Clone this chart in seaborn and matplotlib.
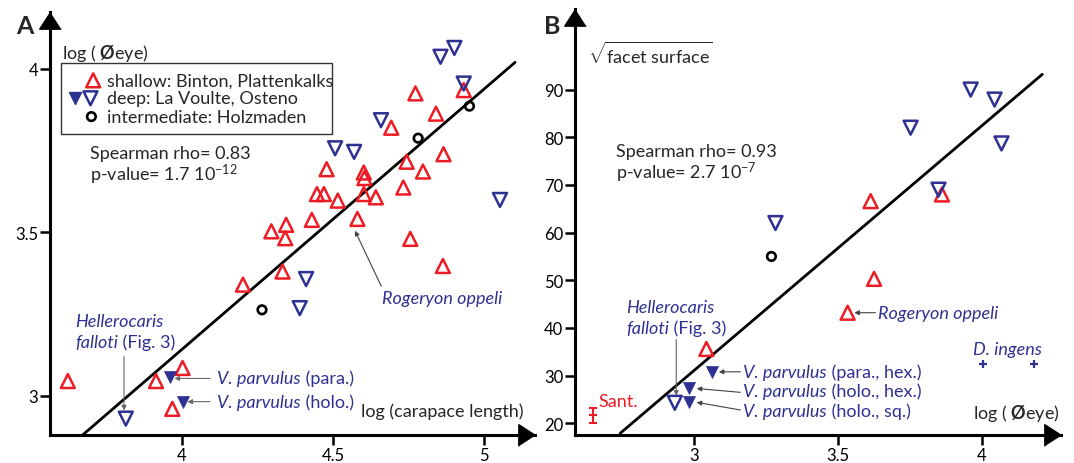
import matplotlib
matplotlib.use("Agg")
import matplotlib.pyplot as plt
from matplotlib.patches import Rectangle
import seaborn as sns

RED = "#ED1C24"
BLUE = "#2E3192"

# ---- panel A: log(carapace length) vs log(eye diameter) ----
a_shallow_x = [4.933, 4.773, 4.841, 4.693, 4.866, 4.744, 4.479, 4.602, 4.604, 4.798,
               4.733, 4.447, 4.470, 4.602, 4.516, 4.642, 4.430, 4.581, 4.345, 4.296,
               4.342, 4.756, 4.202, 4.333, 4.864, 3.622, 3.914, 4.002, 3.968]
a_shallow_y = [3.935, 3.925, 3.863, 3.820, 3.739, 3.716, 3.693, 3.683, 3.666, 3.686,
               3.637, 3.617, 3.617, 3.617, 3.597, 3.607, 3.538, 3.541, 3.523, 3.503,
               3.482, 3.480, 3.340, 3.380, 3.397, 3.045, 3.045, 3.085, 2.960]
a_deep_open_x = [4.856, 4.902, 4.933, 4.659, 4.507, 4.570, 5.053, 4.411, 4.390, 3.814]
a_deep_open_y = [4.037, 4.064, 3.955, 3.843, 3.757, 3.746, 3.599, 3.357, 3.268, 2.930]
a_deep_fill_x = [3.959, 4.002]
a_deep_fill_y = [3.057, 2.982]
a_inter_x = [4.952, 4.782, 4.265]
a_inter_y = [3.886, 3.788, 3.263]
a_fit_x = [3.671, 5.103]
a_fit_y = [2.880, 4.020]

# ---- panel B: log(eye diameter) vs sqrt(facet surface) ----
b_shallow_x = [3.042, 3.533, 3.625, 3.613, 3.861]
b_shallow_y = [35.6, 43.2, 50.3, 66.6, 68.0]
b_deep_open_x = [3.961, 4.044, 3.752, 4.068, 3.849, 3.282, 2.932]
b_deep_open_y = [90.0, 87.9, 82.0, 78.7, 69.0, 62.0, 24.3]
b_deep_fill_x = [3.063, 2.982, 2.982]
b_deep_fill_y = [30.8, 27.4, 24.4]
b_inter_x = [3.268]
b_inter_y = [55.0]
b_ingens_x = [4.004, 4.181]
b_ingens_y = [32.4, 32.4]
b_sant_x = [2.646]
b_sant_lo = [20.0]
b_sant_hi = [23.3]
b_fit_x = [2.742, 4.210]
b_fit_y = [17.9, 93.2]

sns.set_theme(style="ticks")
plt.rcParams["font.family"] = ["Lato", "DejaVu Sans"]
plt.rcParams["mathtext.fontset"] = "custom"
plt.rcParams["mathtext.rm"] = "Lato"
plt.rcParams["mathtext.it"] = "Lato:italic"
plt.rcParams["mathtext.bf"] = "Lato:bold"

FS = 13

fig = plt.figure(figsize=(10.74, 4.64), dpi=100)
axA = fig.add_axes([50 / 1074, 28 / 464, 485 / 1074, 423 / 464])
axB = fig.add_axes([575 / 1074, 28 / 464, 486 / 1074, 426 / 464])


def style_axis(ax, xlim, ylim, xticks, yticks, xlabels, ylabels):
    ax.set_xlim(xlim)
    ax.set_ylim(ylim)
    ax.set_xticks(xticks)
    ax.set_xticklabels(xlabels)
    ax.set_yticks(yticks)
    ax.set_yticklabels(ylabels)
    ax.set_facecolor("none")
    for s in ["top", "right"]:
        ax.spines[s].set_visible(False)
    for s in ["left", "bottom"]:
        ax.spines[s].set_linewidth(2.2)
        ax.spines[s].set_color("black")
    ax.tick_params(direction="out", length=7.5, width=1.8, labelsize=12,
                   colors="black", pad=1)
    # arrow heads at the axis ends
    ax.plot(1, 0, marker=[(0, 0), (-17, 11), (-17, -11)], ms=24, color="black",
            transform=ax.transAxes, clip_on=False, zorder=5)
    ax.plot(0, 1, marker=[(0, 0), (-11, -17), (11, -17)], ms=24, color="black",
            transform=ax.transAxes, clip_on=False, zorder=5)


def points(ax, x, y, marker, color, filled, s, lw):
    sns.scatterplot(x=x, y=y, ax=ax, marker=marker, s=s, color=color,
                    facecolors=color if filled else "none", edgecolor=color,
                    linewidth=lw, zorder=3, legend=False, clip_on=False)


def arrow(ax, start, tip, color="#444444"):
    ax.annotate("", xy=tip, xytext=start,
                arrowprops=dict(arrowstyle="-|>", color=color, lw=0.8,
                                mutation_scale=7, shrinkA=0, shrinkB=0))


def species(ax, x, y, name, rest=""):
    # italic species name followed by upright remark
    t = ax.text(x, y, name, fontsize=FS, va="center", color=BLUE, fontstyle="italic")
    if rest:
        ax.annotate(rest, xy=(1, 0), xycoords=t, va="bottom", ha="left",
                    fontsize=FS, color=BLUE)


def draw_panel(ax, sh_x, sh_y, do_x, do_y, df_x, df_y, in_x, in_y, fit_x, fit_y):
    ax.plot(fit_x, fit_y, color="black", lw=2, zorder=2)
    points(ax, sh_x, sh_y, "^", RED, False, 100, 1.8)
    points(ax, do_x, do_y, "v", BLUE, False, 100, 1.8)
    points(ax, df_x, df_y, "v", BLUE, True, 75, 0.5)
    points(ax, in_x, in_y, "o", "black", False, 38, 1.9)


# ---------------- A ----------------
style_axis(axA, (3.563, 5.169), (2.88, 4.174), [4, 4.5, 5], [3, 3.5, 4],
           ["4", "4.5", "5"], ["3", "3.5", "4"])
draw_panel(axA, a_shallow_x, a_shallow_y, a_deep_open_x, a_deep_open_y,
           a_deep_fill_x, a_deep_fill_y, a_inter_x, a_inter_y, a_fit_x, a_fit_y)

axA.text(3.603, 4.049, "log ( $\\mathbf{Ø}$eye)", fontsize=FS, va="center")
axA.add_patch(Rectangle((3.601, 3.800), 0.895, 0.218, fill=False, lw=1.0,
                        ec="#333333", zorder=4))
axA.scatter([3.706], [3.965], marker="^", s=100, facecolors="none", edgecolors=RED,
            linewidths=1.8, zorder=5)
axA.scatter([3.646], [3.910], marker="v", s=75, color=BLUE, zorder=5)
axA.scatter([3.697], [3.910], marker="v", s=100, facecolors="none", edgecolors=BLUE,
            linewidths=1.8, zorder=5)
axA.scatter([3.700], [3.854], marker="o", s=38, facecolors="none", edgecolors="black",
            linewidths=1.9, zorder=5)
axA.text(3.751, 3.965, "shallow: Binton, Plattenkalks", fontsize=FS, va="center")
axA.text(3.751, 3.910, "deep: La Voulte, Osteno", fontsize=FS, va="center")
axA.text(3.751, 3.854, "intermediate: Holzmaden", fontsize=FS, va="center")

axA.text(3.697, 3.744, "Spearman rho= 0.83", fontsize=FS, va="center")
axA.text(3.697, 3.678, "p-value= 1.7 10$^{-12}$", fontsize=FS, va="center")
axA.text(5.13, 2.955, "log (carapace length)", fontsize=FS, va="center", ha="right")

species(axA, 4.662, 3.300, "Rogeryon oppeli")
arrow(axA, (4.660, 3.335), (4.573, 3.505))
species(axA, 3.646, 3.230, "Hellerocaris")
species(axA, 3.646, 3.165, "falloti", " (Fig. 3)")
arrow(axA, (3.808, 3.120), (3.808, 2.955), color="#666666")
species(axA, 4.116, 3.053, "V. parvulus", " (para.)")
arrow(axA, (4.093, 3.053), (3.975, 3.053), color="#666666")
species(axA, 4.116, 2.980, "V. parvulus", " (holo.)")
arrow(axA, (4.093, 2.982), (4.018, 2.982), color="#666666")

# ---------------- B ----------------
style_axis(axB, (2.585, 4.275), (17.55, 106.9), [3, 3.5, 4],
           [20, 30, 40, 50, 60, 70, 80, 90], ["3", "3.5", "4"],
           ["20", "30", "40", "50", "60", "70", "80", "90"])
draw_panel(axB, b_shallow_x, b_shallow_y, b_deep_open_x, b_deep_open_y,
           b_deep_fill_x, b_deep_fill_y, b_inter_x, b_inter_y, b_fit_x, b_fit_y)
points(axB, b_ingens_x, b_ingens_y, "+", BLUE, True, 30, 1.6)
axB.errorbar(b_sant_x, [(l + h) / 2 for l, h in zip(b_sant_lo, b_sant_hi)],
             yerr=[(h - l) / 2 for l, h in zip(b_sant_lo, b_sant_hi)],
             fmt="_", color=RED, ms=6, mew=1.5, capsize=3, capthick=1.5, lw=1.5)

axB.text(2.631, 97.6, "$\\sqrt{\\mathrm{facet\\ surface}}$", fontsize=FS, va="center")
axB.text(2.726, 77.2, "Spearman rho= 0.93", fontsize=FS, va="center")
axB.text(2.726, 72.7, "p-value= 2.7 10$^{-7}$", fontsize=FS, va="center")
axB.text(4.269, 22.3, "log ( $\\mathbf{Ø}$eye)", fontsize=FS, va="center", ha="right")

species(axB, 3.637, 43.1, "Rogeryon oppeli")
arrow(axB, (3.630, 43.2), (3.556, 43.2))
species(axB, 2.762, 44.5, "Hellerocaris")
species(axB, 2.762, 39.9, "falloti", " (Fig. 3)")
arrow(axB, (2.937, 37.6), (2.937, 25.8), color="#666666")
species(axB, 3.170, 30.8, "V. parvulus", " (para., hex.)")
arrow(axB, (3.160, 30.8), (3.085, 30.8))
species(axB, 3.170, 26.7, "V. parvulus", " (holo., hex.)")
arrow(axB, (3.160, 26.5), (3.008, 27.3))
species(axB, 3.170, 22.6, "V. parvulus", " (holo., sq.)")
arrow(axB, (3.160, 22.8), (3.008, 24.4))
axB.text(4.09, 35.5, "D. ingens", fontsize=FS, va="center", ha="center", color=BLUE,
         fontstyle="italic")
axB.text(2.665, 24.7, "Sant.", fontsize=FS, va="center", color=RED)

fig.text(25 / 1074, 1 - 27 / 464, "A", fontsize=18, fontweight="bold", ha="center", va="center")
fig.text(552 / 1074, 1 - 27 / 464, "B", fontsize=18, fontweight="bold", ha="center", va="center")

fig.savefig("out.png", dpi=100)
